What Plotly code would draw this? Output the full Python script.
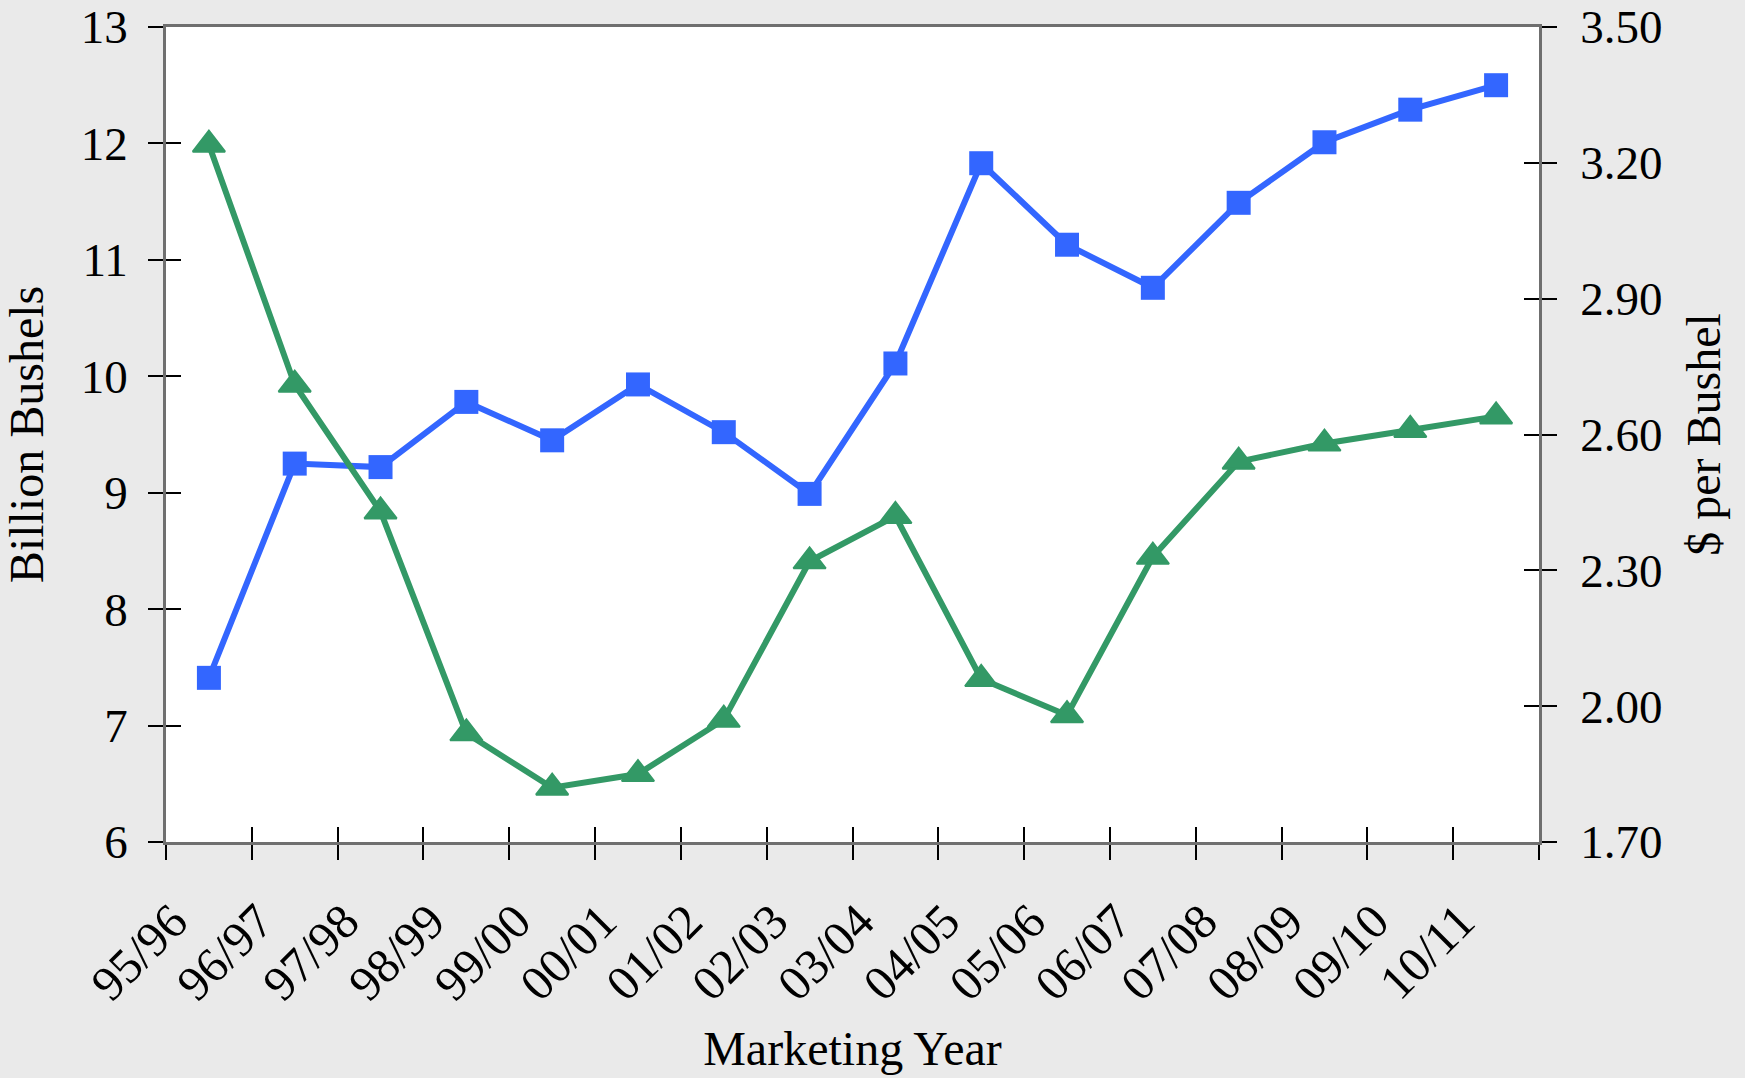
import plotly.graph_objects as go

# ---- data ----
marketing_years = ["95/96", "96/97", "97/98", "98/99", "99/00", "00/01", "01/02", "02/03",
                   "03/04", "04/05", "05/06", "06/07", "07/08", "08/09", "09/10", "10/11"]
use_billion_bu = [7.41, 9.25, 9.22, 9.78, 9.45, 9.93, 9.52, 8.99,
                  10.11, 11.83, 11.13, 10.76, 11.49, 12.01, 12.29, 12.50]
price_per_bu = [3.24, 2.71, 2.43, 1.94, 1.82, 1.85, 1.97, 2.32,
                2.42, 2.06, 1.98, 2.33, 2.54, 2.58, 2.61, 2.64]

left_ticks = [6, 7, 8, 9, 10, 11, 12, 13]
right_ticks = [1.70, 2.00, 2.30, 2.60, 2.90, 3.20, 3.50]

# ---- styles ----
FONT = "Liberation Serif, Times New Roman, serif"
BLUE = "#3366FF"
GREEN = "#339966"
AXIS_LINE = "#6f6f6f"
TICK_FONT = dict(family=FONT, size=47, color="black")
XTICK_FONT = dict(family=FONT, size=49, color="black")
TITLE_FONT = dict(family=FONT, size=48, color="black")

fig = go.Figure()

fig.add_trace(go.Scatter(
    x=marketing_years, y=use_billion_bu, xaxis="x", yaxis="y",
    mode="lines+markers", name="Use",
    line=dict(color=BLUE, width=6),
    marker=dict(symbol="square", size=24, color=BLUE),
    showlegend=False,
))
fig.add_trace(go.Scatter(
    x=marketing_years, y=price_per_bu, xaxis="x", yaxis="y2",
    mode="lines+markers", name="Price",
    line=dict(color=GREEN, width=6),
    marker=dict(symbol="triangle-up", size=28, color=GREEN,
                line=dict(color=GREEN, width=2)),
    showlegend=False,
))
# invisible carriers for the overlay axes that draw the inner half of the crossing ticks
fig.add_trace(go.Scatter(
    x=marketing_years, y=use_billion_bu, xaxis="x2", yaxis="y3",
    mode="lines", line=dict(width=0), opacity=0, hoverinfo="skip", showlegend=False,
))
fig.add_trace(go.Scatter(
    x=marketing_years, y=price_per_bu, xaxis="x2", yaxis="y4",
    mode="lines", line=dict(width=0), opacity=0, hoverinfo="skip", showlegend=False,
))

cat_axis = dict(
    type="category", categoryorder="array", categoryarray=marketing_years,
    range=[-0.5, len(marketing_years) - 0.5], tickson="boundaries",
    showgrid=False, zeroline=False, automargin=False,
    ticklen=15, tickwidth=1.5, tickcolor="black",
)

fig.update_layout(
    template="none",
    width=1745, height=1078,
    margin=dict(l=166, r=206, t=27, b=236, pad=0),
    paper_bgcolor="#EAEAEA",
    plot_bgcolor="white",
    font=dict(family=FONT, color="black"),
    showlegend=False,
    xaxis=dict(
        **cat_axis,
        ticks="outside",
        showline=True, linecolor=AXIS_LINE, linewidth=2.5, mirror=True,
        tickangle=-45, tickfont=XTICK_FONT, ticklabelstandoff=28,
        ticklabelshift=-36,
        title=dict(text="Marketing Year", font=TITLE_FONT, standoff=22),
    ),
    xaxis2=dict(
        **cat_axis,
        overlaying="x", anchor="y", side="bottom",
        ticks="inside", showticklabels=False, showline=False,
    ),
    yaxis=dict(
        range=[6, 13], tickmode="array", tickvals=left_ticks,
        ticktext=[str(v) for v in left_ticks],
        ticks="outside", ticklen=15, tickwidth=1.5, tickcolor="black",
        showline=True, linecolor=AXIS_LINE, linewidth=2.5,
        showgrid=False, zeroline=False, automargin=False,
        tickfont=TICK_FONT, ticklabelstandoff=11,
        title=dict(text="Billion Bushels", font=TITLE_FONT, standoff=23),
    ),
    yaxis2=dict(
        overlaying="y", side="right", anchor="x",
        range=[1.70, 3.50], tickmode="array", tickvals=right_ticks,
        ticktext=[f"{v:.2f}" for v in right_ticks],
        ticks="outside", ticklen=15, tickwidth=1.5, tickcolor="black",
        showline=True, linecolor=AXIS_LINE, linewidth=2.5,
        showgrid=False, zeroline=False, automargin=False,
        tickfont=TICK_FONT, ticklabelstandoff=14,
        title=dict(text="$ per Bushel", font=TITLE_FONT, standoff=25),
    ),
    yaxis3=dict(
        overlaying="y", side="left", anchor="x",
        range=[6, 13], tickmode="array", tickvals=left_ticks,
        ticks="inside", ticklen=15, tickwidth=1.5, tickcolor="black",
        showticklabels=False, showline=False, showgrid=False, zeroline=False,
        automargin=False,
    ),
    yaxis4=dict(
        overlaying="y", side="right", anchor="x",
        range=[1.70, 3.50], tickmode="array", tickvals=right_ticks,
        ticks="inside", ticklen=15, tickwidth=1.5, tickcolor="black",
        showticklabels=False, showline=False, showgrid=False, zeroline=False,
        automargin=False,
    ),
)

fig.write_html(
    "out.html",
    config={"displayModeBar": False},
    post_script="document.body.style.margin='0';document.body.style.padding='0';"
                "document.documentElement.style.margin='0';",
)
